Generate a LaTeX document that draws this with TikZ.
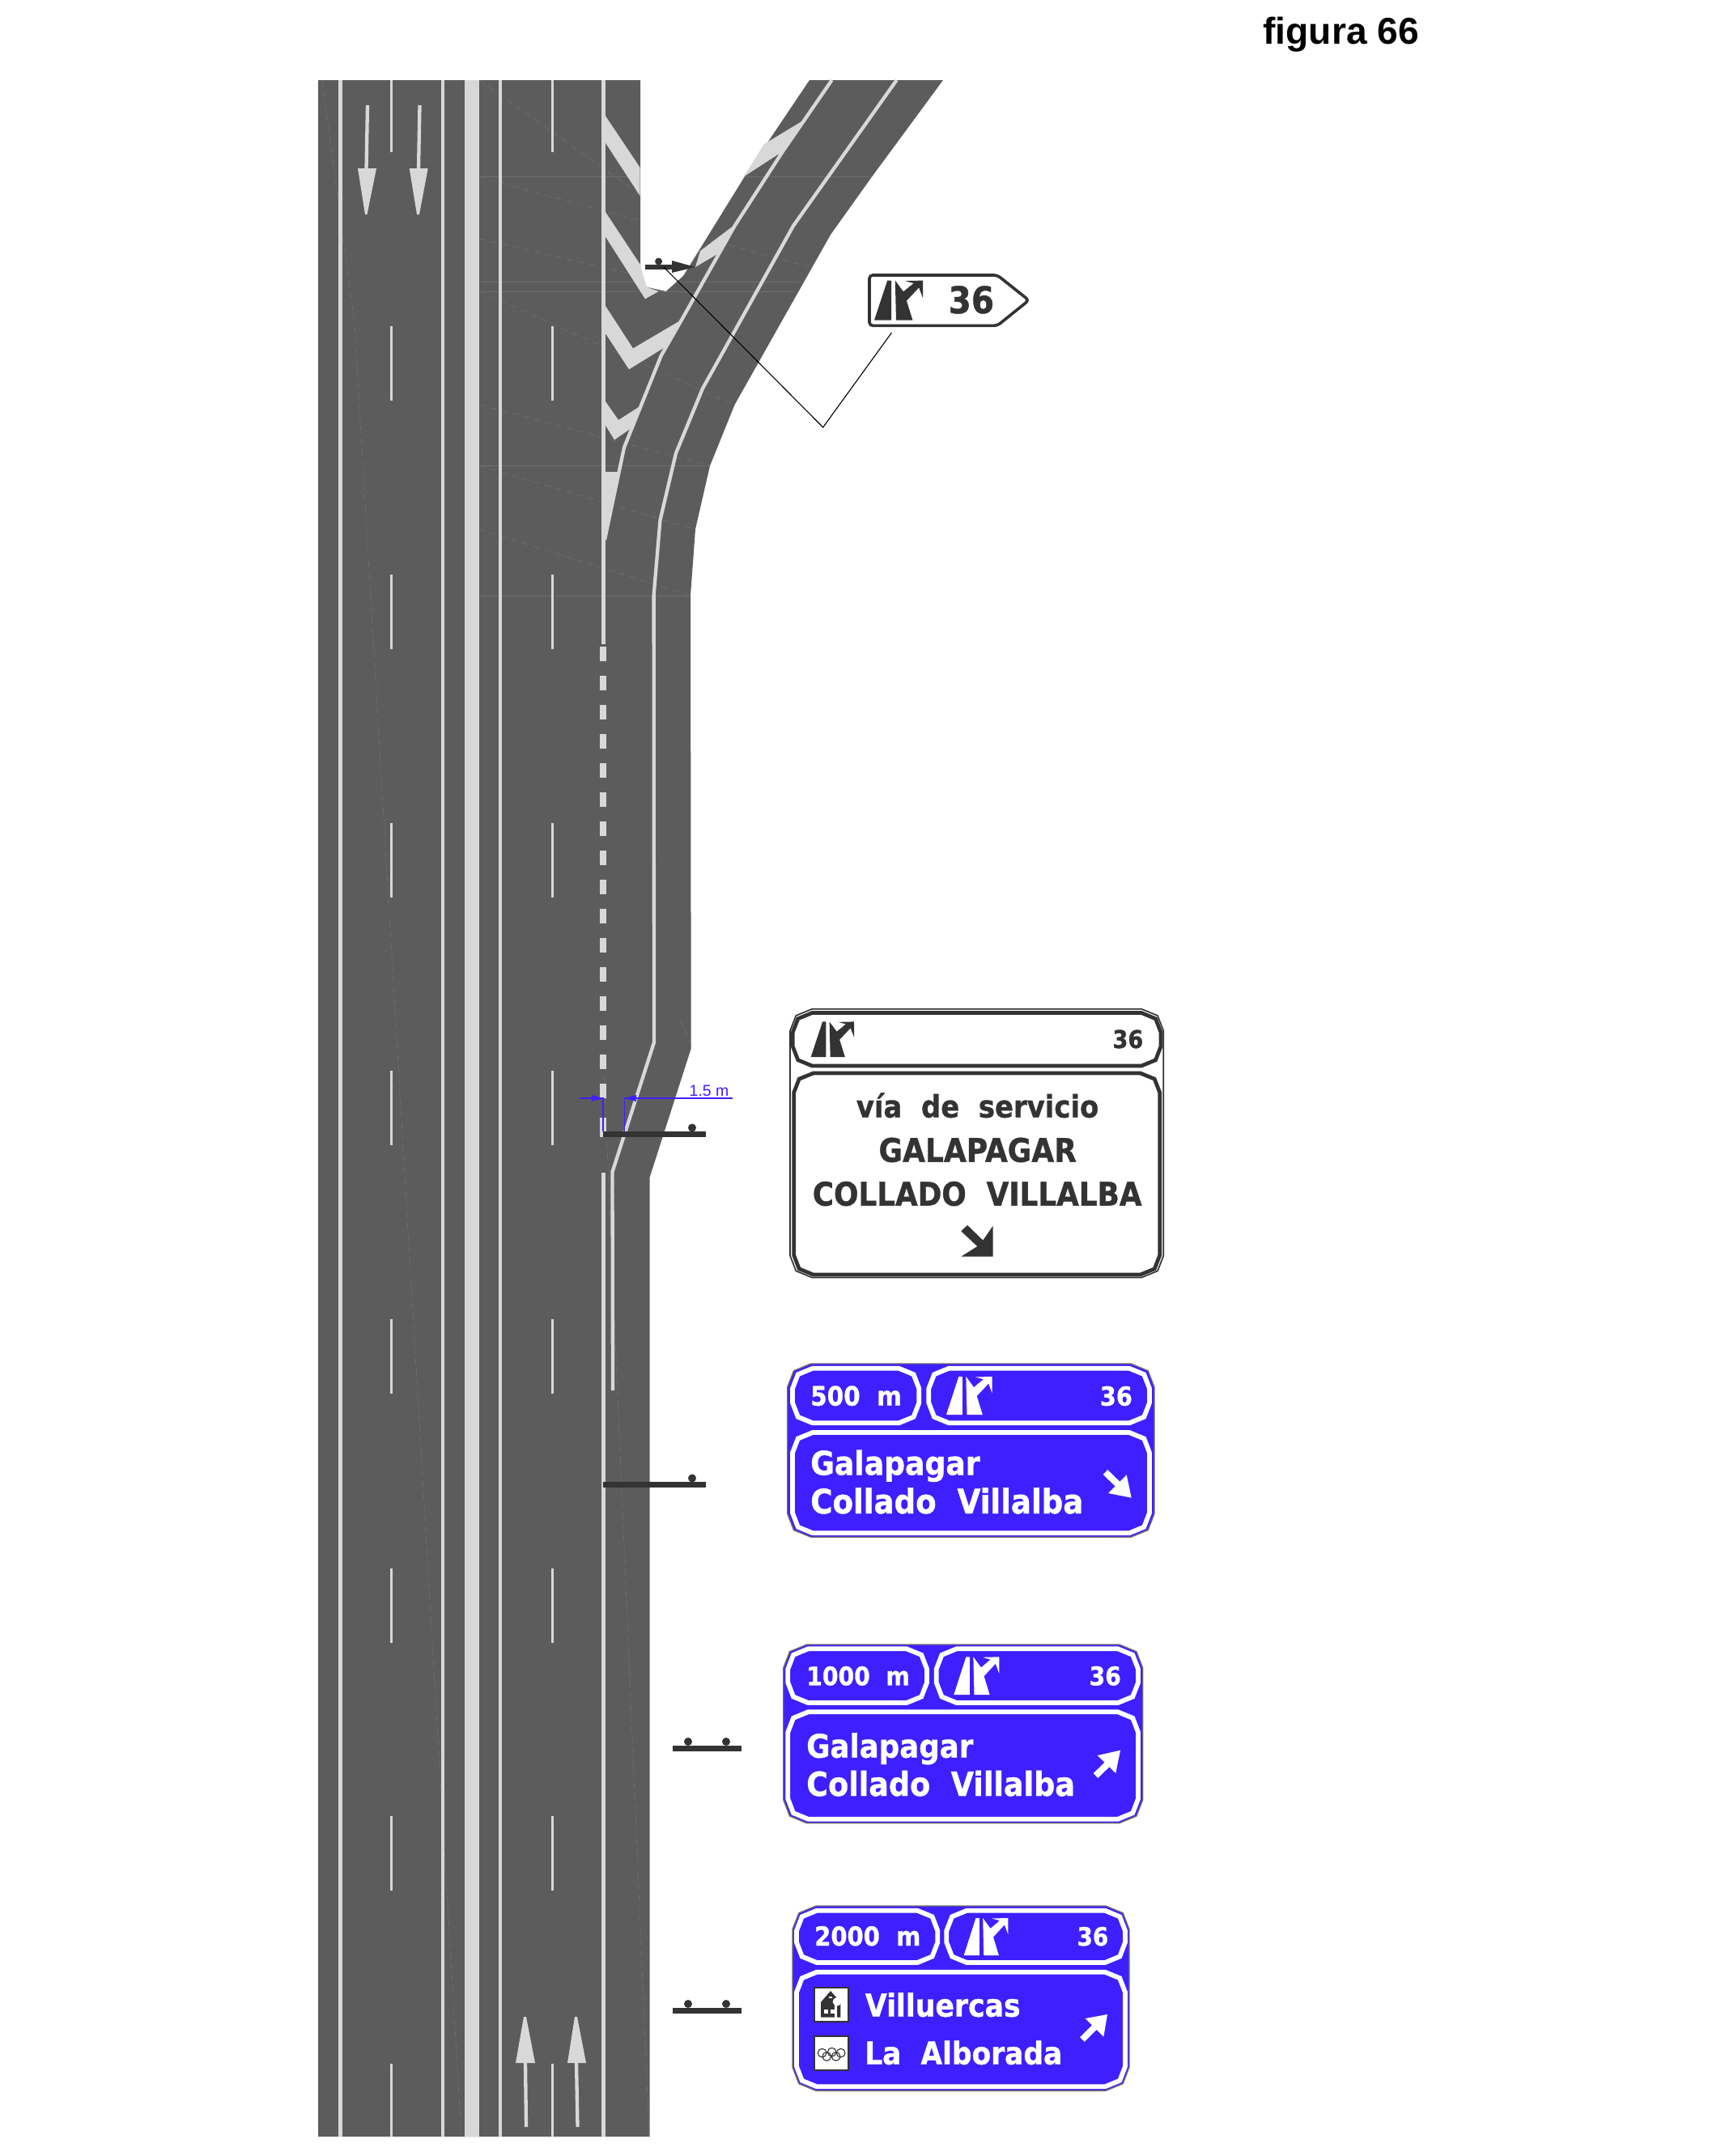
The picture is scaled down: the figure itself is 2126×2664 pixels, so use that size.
\documentclass[tikz,border=0pt]{standalone}
\usepackage{graphicx}
\usepackage{xfp}
\usepackage{fontspec}
\setmainfont{Liberation Sans}
\newfontfamily\signfont{DejaVu Sans}[BoldFeatures={FakeBold=1}]
\usetikzlibrary{arrows.meta}
\definecolor{roadgrey}{HTML}{5C5C5C}
\definecolor{markgrey}{HTML}{D8D8D8}
\definecolor{inkdark}{HTML}{333333}
\definecolor{signblue}{HTML}{3F1FFF}
\definecolor{seamgrey}{HTML}{6E6E6E}
\tikzset{
 markline/.style={draw=markgrey,line width=1.55pt},
 lanedash/.style={draw=markgrey,line width=1.2pt},
 seam/.style={draw=seamgrey,line width=0.3pt},
 seamdash/.style={draw=seamgrey,line width=0.25pt,dash pattern=on 3pt off 2pt},
 markfill/.style={fill=markgrey},
 inkfill/.style={fill=inkdark},
 barstyle/.style={fill=inkdark},
 dimline/.style={draw=signblue,line width=0.5pt},
 whitepanel/.style={draw=white,line width=2.1pt},
 darkpanel/.style={draw=inkdark,line width=1.7pt,fill=white},
 roadpath/.style={},
}
\newcommand{\octa}[6]{%
 \pgfmathsetmacro\cutA{#6}\pgfmathsetmacro\cutB{0.27*#6}\pgfmathsetmacro\cutC{0.3*#6}%
 \draw[#1] (#2+\cutA,#3) -- (#4-\cutA,#3) -- (#4-\cutB,#3+\cutC) -- (#4,#3+\cutA) -- (#4,#5-\cutA) -- (#4-\cutB,#5-\cutC) -- (#4-\cutA,#5) -- (#2+\cutA,#5) -- (#2+\cutB,#5-\cutC) -- (#2,#5-\cutA) -- (#2,#3+\cutA) -- (#2+\cutB,#3+\cutC) -- cycle;}
\newcommand{\signtext}[6]{\node[anchor=base west,inner sep=0pt,text=#5] (#1) at (#2,#3) {\resizebox{\fpeval{#4*0.36}pt}{!}{\scalebox{1}[1.12]{\signfont\bfseries #6}}};}
\newcommand{\picto}[5]{%
 \begin{scope}[shift={(#1,#2)},xscale=#3,yscale=#4]
 \fill[#5] (0,1) -- (0.27,0) -- (0.35,0) -- (0.35,1) -- cycle;
 \fill[#5] (0.45,1) -- (0.43,0) -- (0.6,0.28) -- (0.81,0.07) -- (0.635,0.01) -- (1,0) -- (1,0.44) -- (0.92,0.18) -- (0.665,0.51) -- (0.79,1) -- cycle;
 \end{scope}}
\newcommand{\gap}{\hspace{.35em}}
\newcommand{\roadoutline}{(393,99) -- (791,99) -- (791,332) -- (798.5,354.6) -- (822.7,360) -- (844,341) -- (920,218) -- (1000,99) -- (1165,99) -- (1077,218.5) -- (1026,290) -- (907.6,500) -- (877,575.6) -- (859,654) -- (853,736) -- (853.7,1295.6) -- (802.5,1455) -- (802.5,2640) -- (393,2640) -- cycle}
\begin{document}
\begin{tikzpicture}[x=0.36pt,y=-0.36pt]
\useasboundingbox (0,0) rectangle (2126,2664);

% title
\node[anchor=base west,inner sep=0pt,font=\fontsize{16.6pt}{18pt}\selectfont\bfseries] (title) at (1560,54) {figura 66};

% road
\fill[roadgrey] \roadoutline;

% faint seams of the road surface
\begin{scope}
\clip \roadoutline;
\draw[seam] (592,218.5) -- (1077,218.5);
\draw[seam] (592,575.6) -- (877,575.6);
\draw[seam] (592,736) -- (853,736);
\draw[seam] (592,348) -- (990,348);
\draw[seam] (592,360) -- (980,360);
\draw[seamdash] (592,99) -- (790,240);
\draw[seamdash] (592,218.5) -- (1000,330);
\draw[seamdash] (592,295) -- (830,350);
\draw[seamdash] (592,360) -- (907,500);
\draw[seamdash] (592,500) -- (877,575.6);
\draw[seamdash] (592,575.6) -- (859,654);
\draw[seamdash] (592,654) -- (853,736);
\draw[seamdash] (398,99) -- (438,400) -- (570,2640);
\draw[seamdash] (745,1300) -- (802,2640);
\draw[seamdash] (840,1260) -- (856,1296);
\end{scope}

% chevrons
\fill[markfill] (745.8,140) -- (790.6,207) -- (790.6,242) -- (747,175) -- cycle;
\fill[markfill] (745.8,258.7) -- (790.6,326.5) -- (798.5,354.6) -- (813.6,360) -- (797,369.4) -- (747,291) -- cycle;
\fill[markfill] (906,279) -- (889.4,312) -- (859,330) -- (865,310) -- cycle;
\fill[markfill] (745.8,374.7) -- (782,430.5) -- (841,395.7) -- (823,428) -- (777,456.4) -- (747,410.5) -- cycle;
\fill[markfill] (745.8,493) -- (764,519) -- (789,503) -- (779,529.6) -- (759,543.5) -- (747,524) -- cycle;
\fill[markfill] (745.8,583) -- (764,583) -- (747,667) -- cycle;
\fill[markfill] (992,149) -- (967,187) -- (918.5,218.5) -- (944,178) -- cycle;

% median
\fill[markfill] (574,99) rectangle (592,2640);

% long lines
\draw[markline] (420.5,99) -- (420.5,2640);
\draw[markline] (547,99) -- (547,2640);
\draw[markline] (618,99) -- (618,2640);
\draw[markline] (745.5,99) -- (745.5,796);
\draw[markline] (745.5,1449) -- (745.5,2640);
\draw[markline] (1027.6,99) -- (967,187) -- (907.6,279) -- (841,397) -- (816.7,439.5) -- (771,553) -- (747,667);
\draw[markline] (1107.6,99) -- (980,279) -- (868,480) -- (835,560) -- (815.5,642.6) -- (807.6,736) -- (808,1288) -- (756.5,1448) -- (757,1718);

% transition dashes
\foreach \yy in {799,835,...,1340}{\fill[markfill] (741,\yy) rectangle (749,\yy+18);}
\fill[markfill] (741,1381) rectangle (749,1405);

% lane dashes
\foreach \xx in {483.5,682.5}{
 \draw[lanedash] (\xx,99) -- (\xx,188);
 \foreach \yy in {403,710,1017,1323,1630,1938,2244}{\draw[lanedash] (\xx,\yy) -- (\xx,\yy+92);}
 \draw[lanedash] (\xx,2550) -- (\xx,2640);
}

% road arrows
\draw[markline] (454,130) -- (452.5,210);
\fill[markfill] (442,208) -- (465,208) -- (453.5,265) -- (451,265) -- cycle;
\draw[markline] (518.5,130) -- (517,210);
\fill[markfill] (505.7,208) -- (528.7,208) -- (518,265) -- (515,265) -- cycle;
\draw[markline] (650,2628) -- (649,2547);
\fill[markfill] (637,2549) -- (661,2549) -- (650,2492) -- (647,2492) -- cycle;
\draw[markline] (713.5,2628) -- (712,2547);
\fill[markfill] (701,2549) -- (724,2549) -- (713,2492) -- (710,2492) -- cycle;

% sign posts
\fill[barstyle] (796.7,326.5) rectangle (832,333);
\fill[inkfill] (830,322) -- (859,330) -- (830,337) -- cycle;
\fill[inkfill] (813.6,323) circle[radius=4.5];
\foreach \yb in {1398,1831}{
 \fill[barstyle] (745,\yb) rectangle (872.3,\yb+7);
 \fill[inkfill] (855,\yb-4.5) circle[radius=5];
}
\foreach \yb in {2157,2481}{
 \fill[barstyle] (831.4,\yb) rectangle (916.4,\yb+7);
 \fill[inkfill] (850,\yb-5) circle[radius=5];
 \fill[inkfill] (897,\yb-5) circle[radius=5];
}

% dimension
\draw[dimline] (716,1357) -- (745,1357) -- (745,1398);
\draw[dimline] (905,1357) -- (771.3,1357) -- (771.3,1398);
\fill[signblue] (745,1357) -- (730.5,1353) -- (730.5,1361) -- cycle;
\fill[signblue] (771.3,1357) -- (786,1353) -- (786,1361) -- cycle;
\node[anchor=base,inner sep=0pt,text=signblue,font=\fontsize{7pt}{8pt}\selectfont] (dimlabel) at (876,1354) {1.5 m};

% leader line
\coordinate (leadA) at (820,330);
\coordinate (leadB) at (1016.7,528);
\coordinate (leadC) at (1101.5,411);
\draw[black,line width=0.4pt] (leadA) -- (leadB) -- (leadC);

% small panel sign
\draw[draw=inkdark,fill=white,line width=1.3pt,rounded corners=1.5pt] (1074,340) -- (1232,340) -- (1271,371) -- (1232,402.4) -- (1074,402.4) -- cycle;
\picto{1080}{346.6}{60}{49}{inkdark}
\signtext{aNum}{1171}{387}{56.6}{inkdark}{36}

% white sign
\octa{draw=inkdark,fill=white,line width=0.6pt}{976}{1246.8}{1437.3}{1578.5}{27}
\octa{darkpanel}{979.3}{1251.5}{1434}{1317}{24}
\octa{darkpanel}{980.7}{1326}{1432.7}{1575}{24}
\picto{1001.7}{1262.4}{53.3}{43.6}{inkdark}
\signtext{bNum}{1374}{1295}{37.7}{inkdark}{36}
\signtext{bVia}{1057.3}{1380.7}{299.4}{inkdark}{vía\gap{} de\gap{} servicio}
\signtext{bGal}{1085}{1435.6}{244.3}{inkdark}{GALAPAGAR}
\signtext{bCol}{1003.3}{1489.6}{406.7}{inkdark}{COLLADO\gap{} VILLALBA}
\fill[inkfill] (1226.7,1552.6) -- (1187.3,1552.6) -- (1207.3,1540) -- (1187.3,1521.3) -- (1195,1513.8) -- (1214.3,1532.5) -- (1226.7,1514.6) -- cycle;

% blue sign 500
\octa{draw=seamgrey,fill=signblue,line width=0.5pt}{972.7}{1685}{1426}{1899.3}{29}
\octa{whitepanel}{979}{1690.7}{1135.3}{1758.3}{25}
\octa{whitepanel}{1147.3}{1690.7}{1420}{1758.3}{25}
\octa{whitepanel}{979}{1770}{1420}{1894.3}{25}
\picto{1169}{1701}{56.7}{47}{white}
\signtext{cNum}{1358.3}{1736.7}{40}{white}{36}
\signtext{cDist}{1000.7}{1736.7}{112.6}{white}{500\gap{} m}
\signtext{cGal}{1000.7}{1822.3}{209.3}{white}{Galapagar}
\signtext{cCol}{1000.7}{1870}{337}{white}{Collado\gap{} Villalba}
\draw[draw=white,line width=2.9pt] (1365.5,1819) -- (1384,1837);
\fill[white] (1397.7,1850.7) -- (1391.7,1822.3) -- (1369,1845) -- cycle;

% blue sign 1000
\octa{draw=seamgrey,fill=signblue,line width=0.5pt}{967.7}{2032}{1411.7}{2252.7}{29}
\octa{whitepanel}{973.3}{2037.3}{1145}{2104}{25}
\octa{whitepanel}{1156.7}{2037.3}{1406}{2104}{25}
\octa{whitepanel}{973.3}{2115.3}{1406}{2247.7}{25}
\picto{1178.3}{2047.3}{56}{46.7}{white}
\signtext{dNum}{1345}{2082.3}{39.3}{white}{36}
\signtext{dDist}{995.7}{2082.3}{127.6}{white}{1000\gap{} m}
\signtext{dGal}{995.7}{2171.7}{206}{white}{Galapagar}
\signtext{dCol}{995.7}{2219}{331.6}{white}{Collado\gap{} Villalba}
\draw[draw=white,line width=2.9pt] (1353.5,2194) -- (1372,2176);
\fill[white] (1384,2162.7) -- (1355.7,2169) -- (1378.3,2191) -- cycle;

% blue sign 2000
\octa{draw=seamgrey,fill=signblue,line width=0.5pt}{979}{2355}{1395}{2583.3}{29}
\octa{whitepanel}{984}{2360.7}{1158.3}{2425}{25}
\octa{whitepanel}{1169.3}{2360.7}{1390}{2425}{25}
\octa{whitepanel}{984}{2436.7}{1390}{2578.3}{25}
\picto{1190.7}{2370}{54.6}{46}{white}
\signtext{eNum}{1330}{2404}{38.7}{white}{36}
\signtext{eDist}{1005.7}{2404}{131}{white}{2000\gap{} m}
\signtext{eVil}{1068.3}{2491.7}{191.7}{white}{Villuercas}
\signtext{eLa}{1067.7}{2550.7}{244}{white}{La\gap{} Alborada}
\draw[draw=white,line width=2.9pt] (1337,2520) -- (1355,2502);
\fill[white] (1368,2489) -- (1340.7,2494) -- (1363.3,2516.7) -- cycle;

% service icons
\draw[draw=inkdark,fill=white,line width=0.6pt] (1005.7,2456.3) rectangle (1047.7,2498.3);
\draw[draw=inkdark,fill=white,line width=0.6pt] (1005.7,2516.3) rectangle (1047.7,2557.7);
\begin{scope}[shift={(960,2340)},scale=0.3333]
 \fill[inkdark] (162,458) -- (162,402) -- (198,360) -- (235,402) -- (235,458) -- cycle;
 \fill[white] (175,428) rectangle (190,443);
 \fill[white] (192,380) rectangle (203,388);
 \fill[white] (198,428) rectangle (212,443);
 \fill[white] (222,400) circle[radius=16];
 \fill[white] (212,415) rectangle (222,458);
 \foreach \cx/\cy in {167/590,203/587,236/590,184/603,218/603}{
  \draw[inkdark,line width=0.4pt] (\cx,\cy) circle[radius=16];}
\end{scope}
\end{tikzpicture}
\end{document}
